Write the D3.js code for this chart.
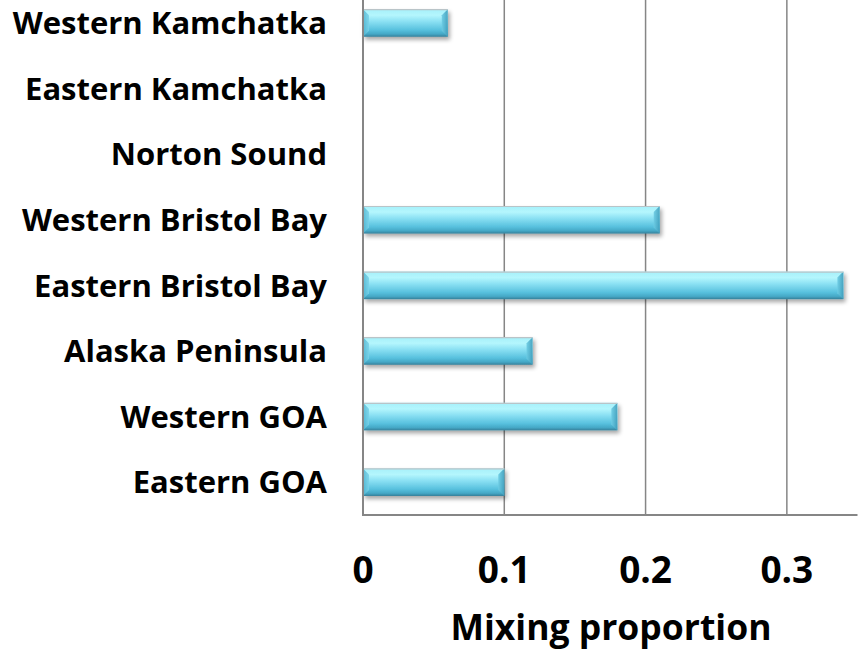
<!DOCTYPE html>
<html>
<head>
<meta charset="utf-8">
<script src="https://cdn.jsdelivr.net/npm/d3@7"></script>
<style>
  html, body { margin: 0; padding: 0; background: #ffffff; }
  svg { display: block; font-weight: bold; }
</style>
</head>
<body>
<svg id="chart" width="861" height="651"></svg>
<script>
// Stock origins, listed top to bottom
const regions = [
  "Western Kamchatka",
  "Eastern Kamchatka",
  "Norton Sound",
  "Western Bristol Bay",
  "Eastern Bristol Bay",
  "Alaska Peninsula",
  "Western GOA",
  "Eastern GOA"
];
// Estimated mixing proportion for each origin
const proportions = [0.06, 0, 0, 0.21, 0.34, 0.12, 0.18, 0.10];
const xTicks = [0, 0.1, 0.2, 0.3];
const xMax = 0.35;
const xTitle = "Mixing proportion";

const svg = d3.select("#chart");
const plot = { left: 363, right: 857.5, top: -9.8, bottom: 515 };

const x = d3.scaleLinear().domain([0, xMax]).range([plot.left, plot.right]);
const y = d3.scaleBand().domain(regions)
  .range([plot.top, plot.bottom])
  .paddingInner(0.58).paddingOuter(0.29);

const defs = svg.append("defs");

// Glossy cyan body of each bar
const body = defs.append("linearGradient").attr("id", "barBody")
  .attr("x1", 0).attr("y1", 0).attr("x2", 0).attr("y2", 1);
[["0%", "#a6f0fa"], ["22%", "#b4f6fd"], ["45%", "#8ae0f3"], ["75%", "#58c1de"], ["90%", "#45a8c6"], ["100%", "#357f99"]]
  .forEach(([o, c]) => body.append("stop").attr("offset", o).attr("stop-color", c));

// Bevel facets at the bar ends
const bevL = defs.append("linearGradient").attr("id", "bevelLeft")
  .attr("x1", 0).attr("y1", 0).attr("x2", 1).attr("y2", 0);
bevL.append("stop").attr("offset", "0%").attr("stop-color", "#4fb4d0");
bevL.append("stop").attr("offset", "100%").attr("stop-color", "#7ad2e8");
const bevR = defs.append("linearGradient").attr("id", "bevelRight")
  .attr("x1", 0).attr("y1", 0).attr("x2", 1).attr("y2", 0);
bevR.append("stop").attr("offset", "0%").attr("stop-color", "#6ccbe3");
bevR.append("stop").attr("offset", "100%").attr("stop-color", "#3f9dbb");

const shadow = defs.append("filter").attr("id", "barShadow")
  .attr("x", "-5%").attr("y", "-30%").attr("width", "115%").attr("height", "180%");
shadow.append("feGaussianBlur").attr("in", "SourceAlpha").attr("stdDeviation", 2.2).attr("result", "b");
shadow.append("feOffset").attr("in", "b").attr("dx", 1.5).attr("dy", 3).attr("result", "o");
shadow.append("feComponentTransfer").attr("in", "o").attr("result", "s")
  .append("feFuncA").attr("type", "linear").attr("slope", 0.35);
const merge = shadow.append("feMerge");
merge.append("feMergeNode").attr("in", "s");
merge.append("feMergeNode").attr("in", "SourceGraphic");

// Vertical gridlines
svg.append("g").selectAll("line")
  .data(xTicks.filter(t => t > 0))
  .join("line")
  .attr("x1", d => x(d)).attr("x2", d => x(d))
  .attr("y1", 0).attr("y2", plot.bottom)
  .attr("stroke", "#868686").attr("stroke-width", 1.5);

// Bars
const bars = svg.append("g").selectAll("g")
  .data(regions.map((r, i) => ({ region: r, value: proportions[i] })).filter(d => d.value > 0))
  .join("g")
  .attr("filter", "url(#barShadow)");

const bh = y.bandwidth();
const bev = 6;
bars.append("rect")
  .attr("x", x(0)).attr("y", d => y(d.region))
  .attr("width", d => x(d.value) - x(0)).attr("height", bh)
  .attr("fill", "url(#barBody)");
bars.append("path")
  .attr("d", d => {
    const x0 = x(0), y0 = y(d.region);
    return `M${x0},${y0}L${x0 + bev},${y0 + bev}L${x0 + bev},${y0 + bh - bev}L${x0},${y0 + bh}Z`;
  })
  .attr("fill", "url(#bevelLeft)").attr("opacity", 0.85);
bars.append("path")
  .attr("d", d => {
    const x1 = x(d.value), y0 = y(d.region);
    return `M${x1},${y0}L${x1 - bev},${y0 + bev}L${x1 - bev},${y0 + bh - bev}L${x1},${y0 + bh}Z`;
  })
  .attr("fill", "url(#bevelRight)").attr("opacity", 0.9);
bars.append("line")
  .attr("x1", x(0)).attr("x2", d => x(d.value))
  .attr("y1", d => y(d.region) + 0.5).attr("y2", d => y(d.region) + 0.5)
  .attr("stroke", "#b9c4c8").attr("stroke-width", 1.2);

// Axis lines
svg.append("line")
  .attr("x1", plot.left).attr("x2", plot.left)
  .attr("y1", 0).attr("y2", plot.bottom + 1)
  .attr("stroke", "#868686").attr("stroke-width", 2);
svg.append("line")
  .attr("x1", plot.left - 1).attr("x2", plot.right)
  .attr("y1", plot.bottom).attr("y2", plot.bottom)
  .attr("stroke", "#868686").attr("stroke-width", 2);

// Category labels
svg.append("g").selectAll("text")
  .data(regions)
  .join("text")
  .attr("x", 327)
  .attr("y", d => y(d) + bh / 2)
  .attr("dy", "0.36em")
  .attr("text-anchor", "end")
  .attr("font-family", "'Open Sans', Lato, sans-serif")
  .attr("font-size", 31)
  .attr("fill", "#000")
  .text(d => d);

// Tick labels
svg.append("g").selectAll("text")
  .data(xTicks)
  .join("text")
  .attr("x", d => x(d))
  .attr("y", 583)
  .attr("text-anchor", "middle")
  .attr("font-family", "'Open Sans', Lato, sans-serif")
  .attr("font-size", 37)
  .attr("fill", "#000")
  .text(d => d === 0 ? "0" : d3.format(".1f")(d));

// Axis title
svg.append("text")
  .attr("x", 611).attr("y", 640)
  .attr("text-anchor", "middle")
  .attr("font-family", "'Open Sans', Lato, sans-serif")
  .attr("font-size", 35.5)
  .attr("fill", "#000")
  .text(xTitle);
</script>
</body>
</html>
